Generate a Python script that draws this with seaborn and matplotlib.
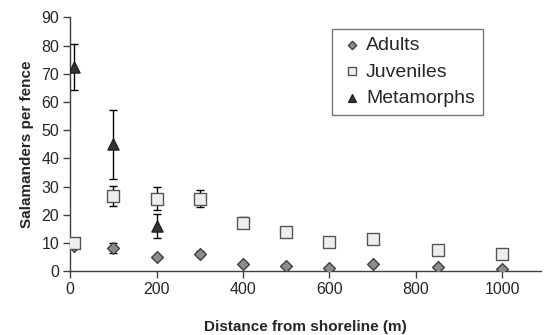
import matplotlib
matplotlib.use("Agg")
import matplotlib.pyplot as plt
import seaborn as sns
import pandas as pd
import numpy as np

distance = [10, 100, 200, 300, 400, 500, 600, 700, 850, 1000]
adults = [9.0, 8.2, 5.0, 6.3, 2.5, 1.8, 1.3, 2.6, 1.7, 1.0]
adults_err = [0.5, 1.8, 0.4, 0.8, 0.4, 0.3, 0.3, 0.5, 0.3, 0.3]
juveniles = [10.2, 26.7, 25.7, 25.8, 17.2, 13.8, 10.3, 11.4, 7.5, 6.3]
juveniles_err = [0.6, 3.6, 4.1, 3.1, 2.0, 0.5, 1.3, 0.4, 0.4, 0.4]
meta_distance = [10, 100, 200]
metamorphs = [72.3, 45.0, 16.2]
metamorphs_err = [8.2, 12.2, 4.3]

sns.set_style("white")
plt.rcParams['font.family'] = ['Liberation Sans', 'DejaVu Sans']

fig, ax = plt.subplots(figsize=(5.44, 3.35), dpi=100)
fig.subplots_adjust(left=0.129, right=0.995, top=0.948, bottom=0.19)

series = [
    ("Adults", distance, adults, adults_err, "D", "#8c8c8c", "#404040", 6),
    ("Juveniles", distance, juveniles, juveniles_err, "s", "#eeeeee", "#555555", 8),
    ("Metamorphs", meta_distance, metamorphs, metamorphs_err, "^", "#333333", "#222222", 8),
]

for name, xs, ys, es, mk, fc, ec, sz in series:
    ax.errorbar(xs, ys, yerr=es, fmt="none", ecolor="black", elinewidth=1.0,
                capsize=3, capthick=1.0, zorder=2)
    df = pd.DataFrame({"x": xs, "y": ys})
    sns.scatterplot(data=df, x="x", y="y", ax=ax, marker=mk, s=sz**2,
                    color=fc, edgecolor=ec, linewidth=1.0, zorder=3, label=name)

ax.set_xlim(0, 1090)
ax.set_ylim(0, 90)
ax.set_xticks([0, 200, 400, 600, 800, 1000])
ax.set_yticks(range(0, 91, 10))
ax.tick_params(axis="both", labelsize=11.5, length=5, width=1, color="#404040",
               direction="out", bottom=True, left=True, pad=3)
for s in ["top", "right"]:
    ax.spines[s].set_visible(False)
for s in ["left", "bottom"]:
    ax.spines[s].set_color("#404040")
    ax.spines[s].set_linewidth(1.0)

ax.set_xlabel("Distance from shoreline (m)", fontsize=11, fontweight="bold", labelpad=16)
ax.set_ylabel("Salamanders per fence", fontsize=11, fontweight="bold", labelpad=5)

leg = ax.legend(loc="upper left", bbox_to_anchor=(0.556, 0.955), fontsize=14,
                frameon=True, fancybox=False, handletextpad=0.15,
                borderpad=0.4, labelspacing=0.45, handlelength=1.2,
                borderaxespad=0, markerscale=0.7)
leg.get_frame().set_edgecolor("#555555")
leg.get_frame().set_linewidth(1.0)

fig.savefig("out.png", dpi=100)
